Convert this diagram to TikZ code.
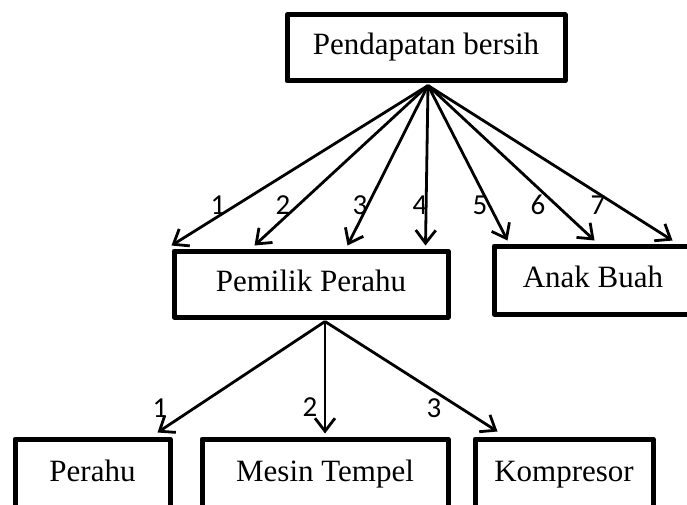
\documentclass[tikz,border=0pt]{standalone}
\usepackage{fontspec}
\setmainfont{Liberation Serif}
\newfontfamily\numfont{Carlito}
\usetikzlibrary{arrows.meta}
\begin{document}
\begin{tikzpicture}[x=1pt,y=-1pt,
  box/.style={draw, line width=5pt, line join=round, inner sep=0pt,
    text height=21pt, text depth=7pt,
    font=\fontsize{31}{36}\selectfont},
  arr/.style={line width=2.8pt, -{Straight Barb[length=13pt,width=20pt,line width=2.8pt]}},
  num/.style={font=\numfont\fontsize{29}{32}\selectfont, inner sep=0pt}]
\useasboundingbox (0,0) rectangle (687,505);
\clip (0,0) rectangle (687,505);

\node[box, minimum width=278pt, minimum height=66pt] (top) at (426,48) {Pendapatan bersih};
\node[box, minimum width=274pt, minimum height=66pt] (pem) at (311,284) {Pemilik Perahu};
\node[box, minimum width=198pt, minimum height=68pt] (anak) at (593,280) {Anak Buah};
\node[box, minimum width=155pt, minimum height=70pt] (perahu) at (92.5,474) {Perahu};
\node[box, minimum width=246pt, minimum height=70pt] (mesin) at (325,474) {Mesin Tempel};
\node[box, minimum width=178pt, minimum height=70pt] (komp) at (564,474) {Kompresor};

\coordinate (o) at ([xshift=2pt,yshift=-2pt]top.south);
\coordinate (p) at ([xshift=14pt,yshift=-2pt]pem.south);

\draw[arr] (o) -- ([xshift=0pt,yshift=3pt]pem.north west);
\draw[arr] (o) -- ([xshift=83pt,yshift=3pt]pem.north west);
\draw[arr] (o) -- ([xshift=176pt,yshift=3pt]pem.north west);
\draw[arr] (o) -- ([xshift=254pt,yshift=3pt]pem.north west);
\draw[arr] (o) -- ([xshift=16pt,yshift=3pt]anak.north west);
\draw[arr] (o) -- ([xshift=103pt,yshift=3pt]anak.north west);
\draw[arr] (o) -- ([xshift=181pt,yshift=3pt]anak.north west);

\draw[arr] (p) -- ([xshift=-15pt,yshift=4pt]perahu.north east);
\draw[arr] (p) -- ([yshift=3pt]mesin.north);
\draw[arr] (p) -- ([xshift=25pt,yshift=5pt]komp.north west);

\node[num] (n1) at (218,205) {1};
\node[num] (n2) at (283,205) {2};
\node[num] (n3) at (360,205) {3};
\node[num] (n4) at (420,205) {4};
\node[num] (n5) at (480,205) {5};
\node[num] (n6) at (538,205) {6};
\node[num] (n7) at (598,205) {7};
\node[num] (m1) at (160,408) {1};
\node[num] (m2) at (310,407) {2};
\node[num] (m3) at (434,408) {3};
\end{tikzpicture}
\end{document}
